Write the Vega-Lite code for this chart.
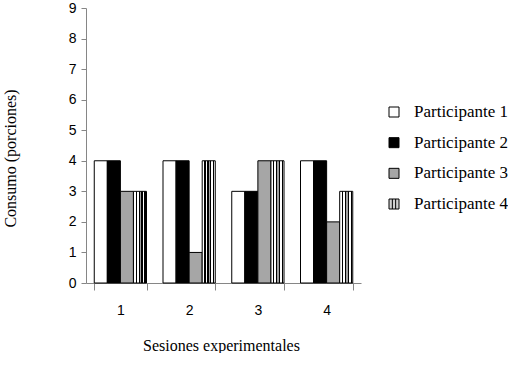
{
  "$schema": "https://vega.github.io/schema/vega-lite/v6.json",
  "padding": {"left": 2, "top": 1, "right": 0, "bottom": 0},
  "background": "white",
  "config": {"view": {"stroke": null}},
  "bounds": "flush",
  "spacing": 23,
  "datasets": {
    "bars": [
      {"s": "1", "p": "Participante 1", "v": 4},
      {"s": "1", "p": "Participante 2", "v": 4},
      {"s": "1", "p": "Participante 3", "v": 3},
      {"s": "1", "p": "Participante 4", "v": 3},
      {"s": "2", "p": "Participante 1", "v": 4},
      {"s": "2", "p": "Participante 2", "v": 4},
      {"s": "2", "p": "Participante 3", "v": 1},
      {"s": "2", "p": "Participante 4", "v": 4},
      {"s": "3", "p": "Participante 1", "v": 3},
      {"s": "3", "p": "Participante 2", "v": 3},
      {"s": "3", "p": "Participante 3", "v": 4},
      {"s": "3", "p": "Participante 4", "v": 4},
      {"s": "4", "p": "Participante 1", "v": 4},
      {"s": "4", "p": "Participante 2", "v": 4},
      {"s": "4", "p": "Participante 3", "v": 2},
      {"s": "4", "p": "Participante 4", "v": 3}
    ],
    "leg": [
      {"p": "Participante 1"},
      {"p": "Participante 2"},
      {"p": "Participante 3"},
      {"p": "Participante 4"}
    ]
  },
  "hconcat": [
    {
      "width": 275,
      "height": 275,
      "data": {"name": "bars"},
      "mark": {"type": "bar", "stroke": "black", "strokeWidth": 1},
      "encoding": {
        "x": {
          "field": "s", "type": "nominal",
          "scale": {"paddingInner": 0.24, "paddingOuter": 0.12},
          "axis": {
            "title": "Sesiones experimentales",
            "titleFont": "Liberation Serif", "titleFontSize": 16, "titleFontWeight": "normal", "titleColor": "black",
            "titleX": 135, "titleY": 62, "titleBaseline": "middle",
            "labelAngle": 0, "labelFont": "Liberation Sans", "labelFontSize": 14, "labelColor": "black",
            "labelPadding": 13,
            "tickBand": "extent", "tickSize": 7, "tickColor": "#868686", "domainColor": "#868686", "grid": false
          }
        },
        "xOffset": {"field": "p", "type": "nominal", "scale": {"paddingInner": 0, "paddingOuter": 0}},
        "y": {
          "field": "v", "type": "quantitative",
          "scale": {"domain": [0, 9], "nice": false},
          "axis": {
            "title": "Consumo (porciones)",
            "titleFont": "Liberation Serif", "titleFontSize": 16, "titleFontWeight": "normal", "titleColor": "black",
            "titleX": -76, "titleY": 150, "titleAngle": -90, "titleBaseline": "middle", "titleAlign": "center",
            "values": [0, 1, 2, 3, 4, 5, 6, 7, 8, 9],
            "labelFont": "Liberation Sans", "labelFontSize": 14, "labelColor": "black", "labelPadding": 5,
            "tickSize": 5, "tickColor": "#868686", "domainColor": "#868686", "grid": false
          }
        },
        "fill": {
          "condition": {"test": "datum.p === 'Participante 4'", "value": {"gradient": "linear", "x1": 0, "y1": 0, "x2": 1, "y2": 0, "stops": [
              {"offset": 0, "color": "white"}, {"offset": 0.17, "color": "white"},
              {"offset": 0.17, "color": "black"}, {"offset": 0.27, "color": "black"},
              {"offset": 0.27, "color": "white"}, {"offset": 0.4, "color": "white"},
              {"offset": 0.4, "color": "black"}, {"offset": 0.5, "color": "black"},
              {"offset": 0.5, "color": "#a0a0a0"}, {"offset": 0.6, "color": "#a0a0a0"},
              {"offset": 0.6, "color": "black"}, {"offset": 0.7, "color": "black"},
              {"offset": 0.7, "color": "white"}, {"offset": 0.83, "color": "white"},
              {"offset": 0.83, "color": "black"}, {"offset": 0.93, "color": "black"},
              {"offset": 0.93, "color": "white"}, {"offset": 1, "color": "white"}
            ]}},
          "field": "p", "type": "nominal",
          "scale": {"range": ["white", "black", "#a6a6a6", "#d0d0d0"]},
          "legend": null
        }
      }
    },
    {
      "width": 20,
      "height": 275,
      "data": {"name": "leg"},
      "layer": [
        {
          "mark": {"type": "point", "filled": true, "stroke": "black", "strokeWidth": 1, "opacity": 1, "size": 100},
          "encoding": {
            "y": {"field": "p", "type": "nominal", "scale": {"type": "point", "padding": 0, "range": [104, 196]}, "axis": null},
            "shape": {"field": "p", "type": "nominal", "scale": {"range": ["square", "square", "square", "M-1,-1H1V1H-1Z M-0.33,-1V1 M0.33,-1V1"]}, "legend": null},
            "fill": {"field": "p", "type": "nominal", "scale": {"range": ["white", "black", "#a6a6a6", "white"]}, "legend": null}
          }
        },
        {
          "mark": {"type": "text", "align": "left", "baseline": "middle", "dx": 20, "font": "Liberation Serif", "fontSize": 17, "color": "black"},
          "encoding": {
            "y": {"field": "p", "type": "nominal", "scale": {"type": "point", "padding": 0, "range": [104, 196]}, "axis": null},
            "text": {"field": "p", "type": "nominal"}
          }
        }
      ]
    }
  ]
}
